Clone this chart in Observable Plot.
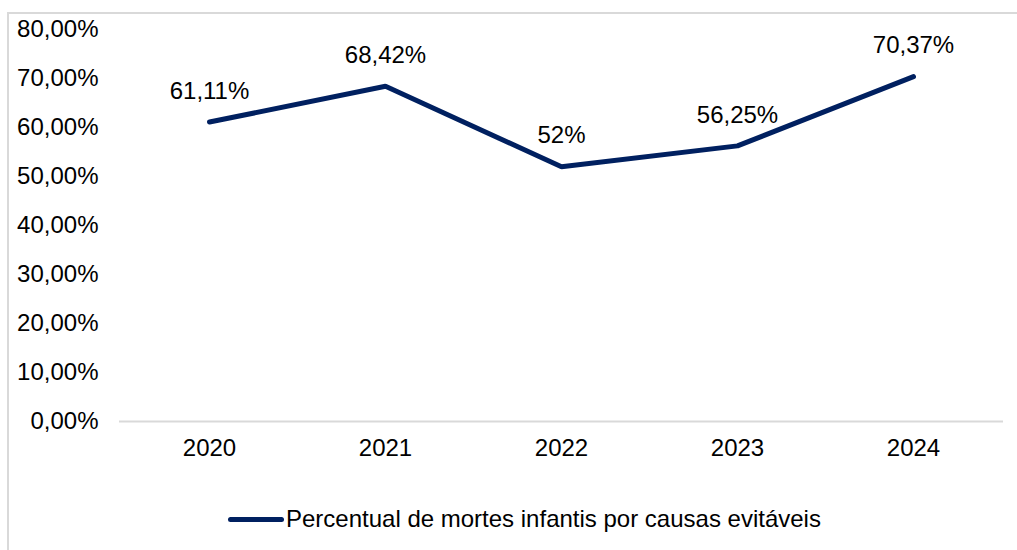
<!DOCTYPE html>
<html>
<head>
<meta charset="utf-8">
<script src="https://cdn.jsdelivr.net/npm/d3@7"></script>
<script src="https://cdn.jsdelivr.net/npm/@observablehq/plot@0.6"></script>
<style>
  html, body { margin: 0; padding: 0; background: #fff; }
  #wrap { position: relative; width: 1017px; height: 550px; overflow: hidden; font-family: "Liberation Sans", Arial, sans-serif; }
  #frame { position: absolute; left: 7px; top: 12px; width: 1100px; height: 600px; border-top: 2px solid #d9d9d9; border-left: 2px solid #d9d9d9; }
  #chart { position: absolute; left: 0; top: 0; }
  #legend { position: absolute; left: 228px; top: 505px; display: flex; align-items: center; font-size: 24px; color: #000; }
  #legend .sw { width: 56px; height: 5px; border-radius: 3px; background: #002060; margin-right: 2px; }
</style>
</head>
<body>
<div id="wrap">
  <div id="frame"></div>
  <div id="chart"></div>
  <div id="legend"><span class="sw"></span><span id="legtext"></span></div>
</div>
<script>
const years = ["2020", "2021", "2022", "2023", "2024"];
const values = [61.11, 68.42, 52, 56.25, 70.37];
const valueLabels = ["61,11%", "68,42%", "52%", "56,25%", "70,37%"];
const yTicks = [0, 10, 20, 30, 40, 50, 60, 70, 80];
const seriesName = "Percentual de mortes infantis por causas evitáveis";
const lineColor = "#002060";

const data = years.map((y, i) => ({year: y, value: values[i], label: valueLabels[i]}));

const chart = Plot.plot({
  width: 1017,
  height: 470,
  marginLeft: 119,
  marginRight: 14,
  marginTop: 29,
  marginBottom: 49,
  style: {fontFamily: "'Liberation Sans', Arial, sans-serif", fontSize: "24px", color: "#000", background: "transparent", overflow: "visible"},
  x: {type: "point", domain: years, padding: 0.5, label: null},
  y: {domain: [0, 80], label: null},
  marks: [
    Plot.axisY(yTicks, {tickSize: 0, tickPadding: 21, fontSize: 24, tickFormat: d => d.toFixed(2).replace(".", ",") + "%", label: null}),
    Plot.axisX({tickSize: 0, tickPadding: 17, fontSize: 24, label: null}),
    Plot.ruleY([0], {stroke: "#d9d9d9", strokeWidth: 2}),
    Plot.line(data, {x: "year", y: "value", stroke: lineColor, strokeWidth: 5, strokeLinecap: "round", strokeLinejoin: "miter"}),
    Plot.text(data, {x: "year", y: "value", text: "label", dy: -31, fontSize: 24, fill: "#000"})
  ]
});
document.getElementById("chart").appendChild(chart);
document.getElementById("legtext").textContent = seriesName;
</script>
</body>
</html>
